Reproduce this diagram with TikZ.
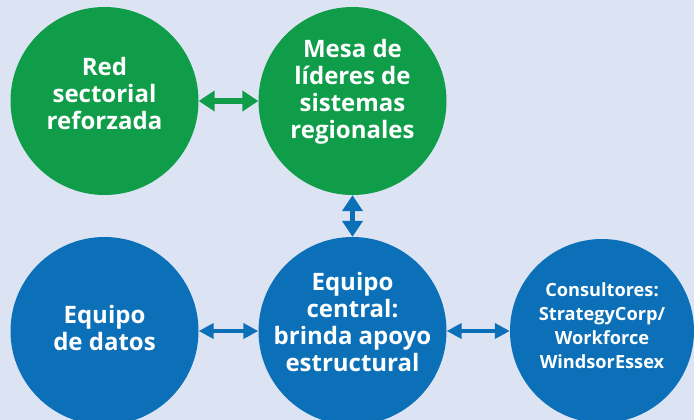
\documentclass[tikz,border=0pt]{standalone}
\usepackage{fontspec}
\setmainfont{Open Sans}
\usetikzlibrary{arrows.meta}
\definecolor{bgc}{HTML}{DCE4F4}
\definecolor{grn}{HTML}{0F9D4A}
\definecolor{blu}{HTML}{0B70B8}
\tikzset{
  circ/.style={circle, inner sep=0pt, minimum size=188pt},
  gcirc/.style={circ, fill=grn},
  bcirc/.style={circ, fill=blu},
  lbl/.style={text=white, align=center, font=\bfseries\fontsize{24}{27}\selectfont},
  slbl/.style={text=white, align=center, font=\bfseries\fontsize{18.2}{24}\selectfont},
  bigarrow/.style={line width=5.5pt, {Triangle[length=16pt,width=20pt]}-{Triangle[length=16pt,width=20pt]}},
  smallarrow/.style={line width=4.2pt, {Triangle[length=15pt,width=15pt]}-{Triangle[length=15pt,width=15pt]}}
}
\begin{document}
\begin{tikzpicture}[x=1pt,y=-1pt]
\fill[bgc] (0,0) rectangle (694,420);
\useasboundingbox (0,0) rectangle (694,420);
\begin{scope}
\clip (0,0) rectangle (694,420);
\node[gcirc] (red) at (104.5,101) {};
\node[gcirc] (mesa) at (352.5,101) {};
\node[bcirc] (datos) at (104.5,331) {};
\node[bcirc] (central) at (352.5,331) {};
\node[bcirc, minimum size=184pt] (cons) at (602,331) {};
\end{scope}
\node[lbl] (tred) at (104.5,93) {Red\\sectorial\\reforzada};
\node[lbl] (tmesa) at (352.5,92) {Mesa de\\líderes de\\sistemas\\regionales};
\node[lbl] (tdatos) at (104.5,328) {Equipo\\de datos};
\node[lbl] (tcentral) at (352.5,322) {Equipo\\central:\\brinda apoyo\\estructural};
\node[slbl] (tcons) at (602,326) {Consultores:\\StrategyCorp/\\Workforce\\WindsorEssex};
\draw[bigarrow, grn] (red) -- (mesa);
\draw[bigarrow, blu] (mesa) -- (central);
\draw[smallarrow, blu] (datos) -- (central);
\draw[smallarrow, blu] (central) -- (cons);
\end{tikzpicture}
\end{document}
